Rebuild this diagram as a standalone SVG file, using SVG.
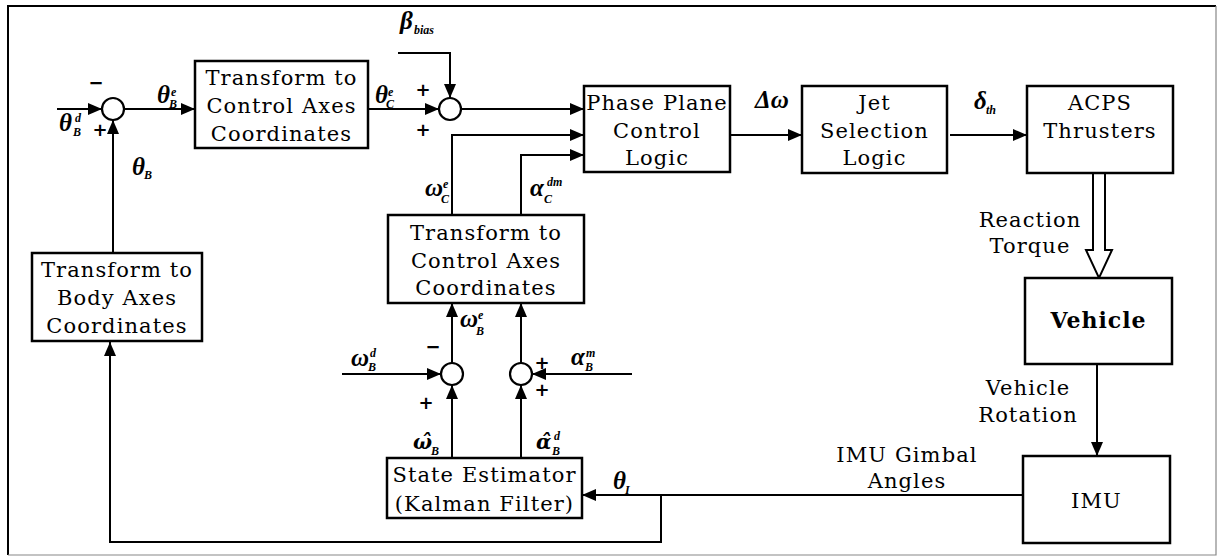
<svg xmlns="http://www.w3.org/2000/svg" width="1218" height="557" viewBox="0 0 1218 557">
<style>
.box{fill:#fff;stroke:#000;stroke-width:2.5}
.sum{fill:#fff;stroke:#000;stroke-width:2.2}
.ln{fill:none;stroke:#000;stroke-width:2}
.t{font-family:"DejaVu Serif","Liberation Serif",serif;font-size:21px;fill:#000;text-anchor:middle;letter-spacing:1.1px}
.tb{font-family:"DejaVu Serif","Liberation Serif",serif;font-size:22px;font-weight:bold;fill:#000;text-anchor:middle;letter-spacing:1px}
.g{font-family:"Liberation Serif","DejaVu Serif",serif;font-style:italic;font-weight:bold;font-size:25px;fill:#000}
.gh{font-family:"DejaVu Serif","Liberation Serif",serif;font-style:italic;font-weight:bold;font-size:20px;fill:#000}
.s{font-family:"Liberation Serif","DejaVu Serif",serif;font-style:italic;font-weight:bold;font-size:12px;fill:#000}
.sg{font-family:"DejaVu Sans","Liberation Sans",sans-serif;font-weight:bold;font-size:18px;fill:#000;text-anchor:middle}
.fr{stroke:#000;stroke-width:2;fill:none}
.frl{stroke:#888;stroke-width:1.2;fill:none}
</style>
<defs>
<marker id="ah" markerUnits="userSpaceOnUse" markerWidth="14" markerHeight="12" refX="14" refY="6" orient="auto">
<path d="M0,0 L14,6 L0,12 z" fill="#000"/>
</marker>
</defs>
<path class="fr" d="M8,555 V6 H1216"/>
<path class="frl" d="M1216,6 V555 H8"/>

<g id="connectors">
<path class="ln" d="M57,109 H102" marker-end="url(#ah)"/>
<path class="ln" d="M124,109 H195" marker-end="url(#ah)"/>
<path class="ln" d="M368,109 H439" marker-end="url(#ah)"/>
<path class="ln" d="M398,53 H450 V98" marker-end="url(#ah)"/>
<path class="ln" d="M461,109 H584" marker-end="url(#ah)"/>
<path class="ln" d="M452,215 V135 H584" marker-end="url(#ah)"/>
<path class="ln" d="M521,215 V155 H584" marker-end="url(#ah)"/>
<path class="ln" d="M730,135 H802" marker-end="url(#ah)"/>
<path class="ln" d="M950,135 H1027" marker-end="url(#ah)"/>
<path d="M1093,173 V250 H1086 L1099,278 L1112,250 H1105 V173" fill="#fff" stroke="#000" stroke-width="2"/>
<path class="ln" d="M1097,364 V456" marker-end="url(#ah)"/>
<path class="ln" d="M1023,495 H582" marker-end="url(#ah)"/>
<path class="ln" d="M661,495 V542 H110 V342" marker-end="url(#ah)"/>
<path class="ln" d="M113,253 V120" marker-end="url(#ah)"/>
<path class="ln" d="M342,374 H441" marker-end="url(#ah)"/>
<path class="ln" d="M632,374 H532" marker-end="url(#ah)"/>
<path class="ln" d="M452,458 V385" marker-end="url(#ah)"/>
<path class="ln" d="M521,458 V385" marker-end="url(#ah)"/>
<path class="ln" d="M452,363 V303" marker-end="url(#ah)"/>
<path class="ln" d="M521,363 V303" marker-end="url(#ah)"/>
</g>

<g id="sum1"><circle class="sum" cx="113" cy="109" r="11"/></g>
<g id="sum2"><circle class="sum" cx="450" cy="109" r="11"/></g>
<g id="sum3"><circle class="sum" cx="452" cy="374" r="11"/></g>
<g id="sum4"><circle class="sum" cx="521" cy="374" r="11"/></g>

<g id="transform1">
<rect class="box" x="195" y="61" width="173" height="87"/>
<text class="t" x="281.5" y="85">Transform to</text>
<text class="t" x="281.5" y="113">Control Axes</text>
<text class="t" x="281.5" y="141">Coordinates</text>
</g>
<g id="phase">
<rect class="box" x="584" y="86" width="146" height="86"/>
<text class="t" x="657" y="110">Phase Plane</text>
<text class="t" x="657" y="138">Control</text>
<text class="t" x="657" y="165">Logic</text>
</g>
<g id="jet">
<rect class="box" x="802" y="86" width="145" height="87"/>
<text class="t" x="874.5" y="110">Jet</text>
<text class="t" x="874.5" y="138">Selection</text>
<text class="t" x="874.5" y="165">Logic</text>
</g>
<g id="acps">
<rect class="box" x="1027" y="86" width="146" height="87"/>
<text class="t" x="1100" y="110">ACPS</text>
<text class="t" x="1100" y="138">Thrusters</text>
</g>
<g id="vehicle">
<rect class="box" x="1025" y="278" width="147" height="86"/>
<text class="tb" x="1098.5" y="328">Vehicle</text>
</g>
<g id="imu">
<rect class="box" x="1023" y="456" width="147" height="87"/>
<text class="t" x="1096.5" y="508">IMU</text>
</g>
<g id="transform2">
<rect class="box" x="388" y="215" width="196" height="88"/>
<text class="t" x="486" y="240">Transform to</text>
<text class="t" x="486" y="268">Control Axes</text>
<text class="t" x="486" y="295">Coordinates</text>
</g>
<g id="estimator">
<rect class="box" x="387" y="458" width="195" height="60"/>
<text class="t" x="484.5" y="482">State Estimator</text>
<text class="t" x="484.5" y="511">(Kalman Filter)</text>
</g>
<g id="bodytransform">
<rect class="box" x="32" y="253" width="170" height="88"/>
<text class="t" x="117" y="277">Transform to</text>
<text class="t" x="117" y="305">Body Axes</text>
<text class="t" x="117" y="333">Coordinates</text>
</g>

<g id="labels">
<text class="t" x="1030" y="227">Reaction</text>
<text class="t" x="1030" y="253">Torque</text>
<text class="t" x="1028" y="395">Vehicle</text>
<text class="t" x="1028" y="422">Rotation</text>
<text class="t" x="907" y="462">IMU Gimbal</text>
<text class="t" x="907" y="488">Angles</text>

<text class="g" x="59" y="131">θ</text><text class="s" x="75" y="122">d</text><text class="s" x="73" y="136">B</text>
<text class="g" x="157" y="103">θ</text><text class="s" x="171" y="96">e</text><text class="s" x="169" y="108">B</text>
<text class="g" x="375" y="103">θ</text><text class="s" x="388" y="96">e</text><text class="s" x="386" y="108">C</text>
<text class="g" x="132" y="175">θ</text><text class="s" x="144" y="179">B</text>
<text class="g" x="400" y="29">β</text><text class="s" x="414" y="34">bias</text>
<text class="g" x="755" y="108">Δω</text>
<text class="g" x="974" y="109">δ</text><text class="s" x="986" y="114">th</text>
<text class="g" x="425" y="196">ω</text><text class="s" x="443" y="188">e</text><text class="s" x="441" y="203">C</text>
<text class="g" x="530" y="196">α</text><text class="s" x="547" y="186">dm</text><text class="s" x="544" y="203">C</text>
<text class="g" x="460" y="327">ω</text><text class="s" x="478" y="319">e</text><text class="s" x="476" y="335">B</text>
<text class="g" x="351" y="366">ω</text><text class="s" x="370" y="357">d</text><text class="s" x="368" y="371">B</text>
<text class="g" x="571" y="365">α</text><text class="s" x="586" y="357">m</text><text class="s" x="585" y="371">B</text>
<text class="gh" x="413" y="449">ω̂</text><text class="s" x="431" y="455">B</text>
<text class="gh" x="536" y="449">α̂</text><text class="s" x="554" y="440">d</text><text class="s" x="552" y="455">B</text>
<text class="g" x="613" y="489">θ</text><text class="s" x="625" y="494">I</text>

<text class="sg" x="96" y="89">−</text>
<text class="sg" x="100" y="136">+</text>
<text class="sg" x="423" y="96">+</text>
<text class="sg" x="423" y="136">+</text>
<text class="sg" x="433" y="353">−</text>
<text class="sg" x="426" y="409">+</text>
<text class="sg" x="542" y="369">+</text>
<text class="sg" x="542" y="396">+</text>
</g>
</svg>
